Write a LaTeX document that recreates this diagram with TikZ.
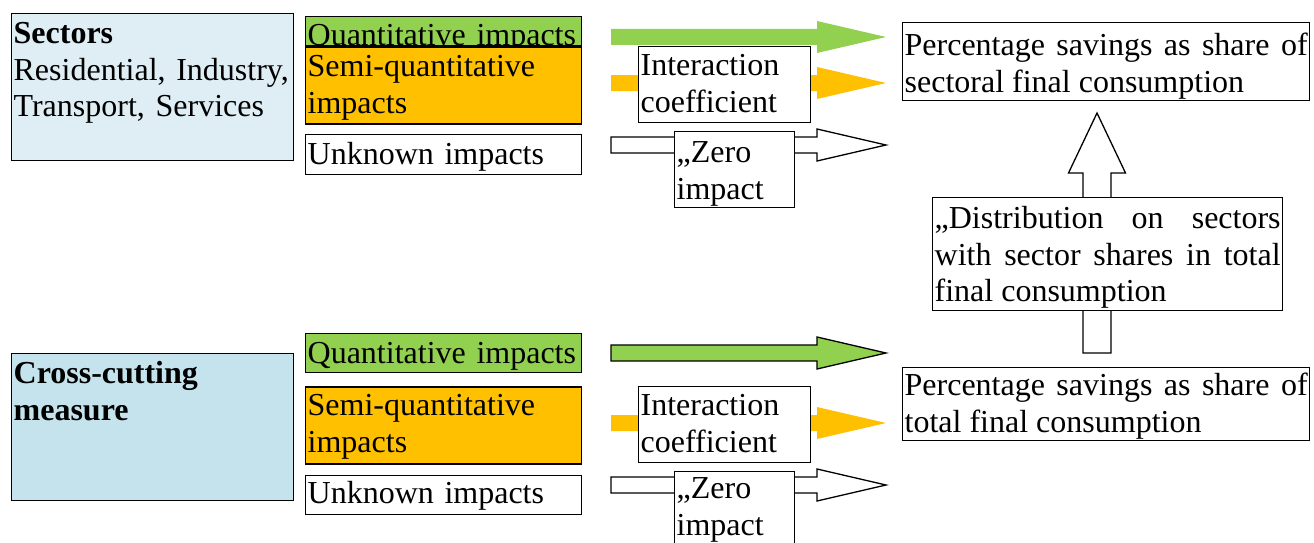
\documentclass[tikz,border=0pt]{standalone}
\usepackage{fontspec}
\setmainfont{Liberation Serif}
\usetikzlibrary{positioning,calc}

\definecolor{qgreen}{HTML}{92D050}
\definecolor{sorange}{HTML}{FFC000}
\definecolor{secblue}{HTML}{DEEEF4}
\definecolor{crossblue}{HTML}{C5E3EC}

\begin{document}
\begin{tikzpicture}[x=1pt,y=-1pt,
  box/.style={draw,line width=1.3pt,rectangle,anchor=north west,align=left,
    inner sep=2pt,font=\fontsize{32}{36.5}\selectfont},
  tb/.style 2 args={text height=#1pt,text depth=#2pt},
  harrow/.style={to path={let \p1=(\tikztostart), \p2=(\tikztotarget) in
    (\x1,\y1-8pt) -- (\x2-69pt,\y1-8pt) -- (\x2-69pt,\y1-16pt) -- (\x2,\y1)
    -- (\x2-69pt,\y1+16pt) -- (\x2-69pt,\y1+8pt) -- (\x1,\y1+8pt) -- cycle}},
  varrow/.style={to path={let \p1=(\tikztostart), \p2=(\tikztotarget) in
    (\x1-14pt,\y1) -- (\x1-14pt,\y2-60pt) -- (\x1-28.5pt,\y2-60pt) -- (\x1,\y2)
    -- (\x1+28.5pt,\y2-60pt) -- (\x1+14pt,\y2-60pt) -- (\x1+14pt,\y1) -- cycle}}]

  \useasboundingbox (0,0) rectangle (1314,543);

  \coordinate (qaS) at (611,37);  \coordinate (qaE) at (886,37);
  \coordinate (saS) at (611,83);  \coordinate (saE) at (886,83);
  \coordinate (uaS) at (611,145); \coordinate (uaE) at (886,145);
  \coordinate (qbS) at (611,353); \coordinate (qbE) at (886,353);
  \coordinate (sbS) at (611,423); \coordinate (sbE) at (886,423);
  \coordinate (ubS) at (611,485); \coordinate (ubE) at (886,485);
  \coordinate (upS) at (1097,353); \coordinate (upE) at (1097,113);

  \node[box,fill=secblue,text width=278pt,tb={28}{115}] (sectors) at (11,13)
    {\textbf{Sectors}\\Residential, Industry,\\Transport, Services};
  \node[box,fill=qgreen,text width=272pt,inner ysep=0pt,tb={29}{0}] (quantA) at (305,16)
    {Quantitative impacts};
  \node[box,fill=sorange,text width=272pt,tb={28}{45},below=0pt of quantA.south west,
    anchor=north west] (semiA) {Semi-quantitative\\impacts};
  \node[box,fill=white,text width=272pt,tb={28}{8},below=9pt of semiA.south west,
    anchor=north west] (unknownA) {Unknown impacts};

  \path[harrow,fill=qgreen] (qaS) to (qaE);
  \path[harrow,fill=sorange] (saS) to (saE);
  \draw[harrow,fill=white,line width=1.3pt] (uaS) to (uaE);

  \node[box,fill=white,text width=168pt,tb={27}{45}] (interA) at (638,46) {Interaction\\coefficient};
  \node[box,fill=white,text width=116pt,tb={29}{43}] (zeroA) at (674,131) {,,Zero\\impact};

  \node[box,fill=white,text width=403pt,align=justify,tb={31}{43}] (pctS) at (902,22)
    {Percentage savings as share of\linebreak sectoral final consumption};

  \node[box,fill=crossblue,text width=278pt,tb={28}{115}] (cross) at (11,353)
    {\textbf{Cross-cutting}\\\textbf{measure}};
  \node[box,fill=qgreen,text width=272pt,tb={28}{7}] (quantB) at (305,333) {Quantitative impacts};
  \node[box,fill=sorange,text width=272pt,tb={27}{46},below=13pt of quantB.south west,
    anchor=north west] (semiB) {Semi-quantitative\\impacts};
  \node[box,fill=white,text width=272pt,tb={26}{9},below=10pt of semiB.south west,
    anchor=north west] (unknownB) {Unknown impacts};

  \draw[harrow,fill=qgreen,line width=1.3pt] (qbS) to (qbE);
  \path[harrow,fill=sorange] (sbS) to (sbE);
  \draw[harrow,fill=white,line width=1.3pt] (ubS) to (ubE);

  \node[box,fill=white,text width=168pt,tb={27}{45}] (interB) at (638,386) {Interaction\\coefficient};
  \node[box,fill=white,text width=116pt,tb={25}{47}] (zeroB) at (674,471) {,,Zero\\impact};

  \node[box,fill=white,text width=403pt,align=justify,tb={26}{43}] (pctT) at (902,367)
    {Percentage savings as share of\linebreak total final consumption};

  \draw[varrow,fill=white,line width=1.3pt] (upS) to (upE);
  \node[box,fill=white,text width=346pt,align=justify,tb={29}{80}] (distr) at (932,197)
    {,,Distribution on sectors\linebreak with sector shares in total\linebreak final consumption};
\end{tikzpicture}
\end{document}
